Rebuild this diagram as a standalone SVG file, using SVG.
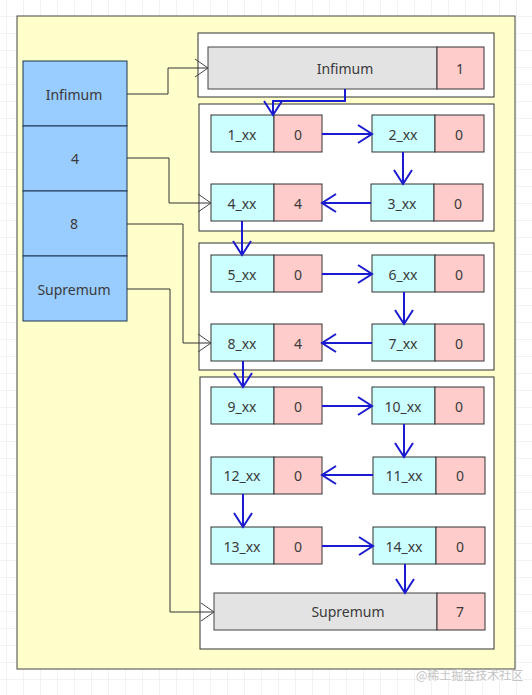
<svg xmlns="http://www.w3.org/2000/svg" width="532" height="695" viewBox="0 0 532 695">
<style>
text{font-family:"Noto Sans","Open Sans","DejaVu Sans",sans-serif;font-size:14px;fill:#3a3a3a;text-anchor:middle;dominant-baseline:central}
.outer{fill:#ffffcc;stroke:#444;stroke-width:1}
.col{fill:#99ccff;stroke:#1f3550;stroke-width:1}
.page{fill:#fff;stroke:#333;stroke-width:1}
.cy{fill:#ccffff;stroke:#333;stroke-width:1}
.pk{fill:#ffcccc;stroke:#333;stroke-width:1}
.gr{fill:#e3e3e3;stroke:#444;stroke-width:1}
.bl{fill:none;stroke:#1a1ad0;stroke-width:2}
.bk{fill:none;stroke:#333;stroke-width:1}
.wm{font-family:"Noto Sans CJK SC","Noto Sans",sans-serif;font-size:12px;fill:#c4c4c4;text-anchor:start}
</style>
<defs>
<pattern id="grid" x="6" y="16" width="17" height="17" patternUnits="userSpaceOnUse">
<path d="M0 0H17M0 0V17" fill="none" stroke="#e6e6e6" stroke-width="1"/>
</pattern>
<marker id="ab" markerUnits="userSpaceOnUse" markerWidth="20" markerHeight="24" refX="15" refY="10" orient="auto">
<path d="M1 1L15 10L1 19" fill="none" stroke="#1a1ad0" stroke-width="2"/>
</marker>
<marker id="ak" markerUnits="userSpaceOnUse" markerWidth="20" markerHeight="24" refX="14" refY="10" orient="auto">
<path d="M1 1L14 10L1 19" fill="none" stroke="#444" stroke-width="1"/>
</marker>
</defs>
<rect width="532" height="695" fill="#fff"/>
<rect width="532" height="695" fill="url(#grid)"/>
<rect class="outer" x="17" y="16" width="498" height="653"/>

<g id="directory">
<rect class="col" x="23" y="61" width="104" height="65"/>
<text x="74" y="94">Infimum</text>
<rect class="col" x="23" y="126" width="104" height="65"/>
<text x="75" y="158">4</text>
<rect class="col" x="23" y="191" width="104" height="65"/>
<text x="74" y="223">8</text>
<rect class="col" x="23" y="256" width="104" height="65"/>
<text x="74" y="289">Supremum</text>
</g>

<g id="page1"><rect class="page" x="198" y="33" width="296" height="64"/></g>
<g id="page2"><rect class="page" x="199" y="104" width="295" height="127"/></g>
<g id="page3"><rect class="page" x="199" y="243" width="295" height="127"/></g>
<g id="page4"><rect class="page" x="200" y="377" width="294" height="272"/></g>

<g id="infimum"><rect class="gr" x="208" y="47" width="229" height="42"/><text x="345" y="68">Infimum</text><rect class="pk" x="437" y="47" width="47" height="42"/><text x="460" y="68">1</text></g>

<g id="r1"><rect class="cy" x="211" y="115" width="63" height="37"/><text x="242" y="134">1_xx</text><rect class="pk" x="274" y="115" width="48" height="37"/><text x="298" y="134">0</text></g>
<g id="r2"><rect class="cy" x="372" y="115" width="63" height="37"/><text x="403" y="134">2_xx</text><rect class="pk" x="435" y="115" width="49" height="37"/><text x="459" y="134">0</text></g>
<g id="r3"><rect class="cy" x="371" y="184" width="63" height="37"/><text x="402" y="203">3_xx</text><rect class="pk" x="434" y="184" width="49" height="37"/><text x="458" y="203">0</text></g>
<g id="r4"><rect class="cy" x="211" y="184" width="63" height="37"/><text x="242" y="203">4_xx</text><rect class="pk" x="274" y="184" width="48" height="37"/><text x="298" y="203">4</text></g>

<g id="r5"><rect class="cy" x="211" y="255" width="63" height="37"/><text x="242" y="274">5_xx</text><rect class="pk" x="274" y="255" width="48" height="37"/><text x="298" y="274">0</text></g>
<g id="r6"><rect class="cy" x="372" y="255" width="63" height="37"/><text x="403" y="274">6_xx</text><rect class="pk" x="435" y="255" width="49" height="37"/><text x="459" y="274">0</text></g>
<g id="r7"><rect class="cy" x="372" y="324" width="63" height="37"/><text x="403" y="343">7_xx</text><rect class="pk" x="435" y="324" width="49" height="37"/><text x="459" y="343">0</text></g>
<g id="r8"><rect class="cy" x="211" y="324" width="63" height="37"/><text x="242" y="343">8_xx</text><rect class="pk" x="274" y="324" width="48" height="37"/><text x="298" y="343">4</text></g>

<g id="r9"><rect class="cy" x="211" y="387" width="63" height="37"/><text x="242" y="406">9_xx</text><rect class="pk" x="274" y="387" width="48" height="37"/><text x="298" y="406">0</text></g>
<g id="r10"><rect class="cy" x="372" y="387" width="63" height="37"/><text x="403" y="406">10_xx</text><rect class="pk" x="435" y="387" width="49" height="37"/><text x="459" y="406">0</text></g>
<g id="r11"><rect class="cy" x="373" y="457" width="63" height="37"/><text x="404" y="475">11_xx</text><rect class="pk" x="436" y="457" width="49" height="37"/><text x="460" y="475">0</text></g>
<g id="r12"><rect class="cy" x="211" y="457" width="63" height="37"/><text x="242" y="475">12_xx</text><rect class="pk" x="274" y="457" width="48" height="37"/><text x="298" y="475">0</text></g>
<g id="r13"><rect class="cy" x="211" y="527" width="63" height="37"/><text x="242" y="546">13_xx</text><rect class="pk" x="274" y="527" width="48" height="37"/><text x="298" y="546">0</text></g>
<g id="r14"><rect class="cy" x="373" y="527" width="63" height="37"/><text x="404" y="546">14_xx</text><rect class="pk" x="436" y="527" width="49" height="37"/><text x="460" y="546">0</text></g>

<g id="supremum"><rect class="gr" x="214" y="593" width="223" height="37"/><text x="348" y="611">Supremum</text><rect class="pk" x="437" y="593" width="48" height="37"/><text x="460" y="611">7</text></g>

<g id="connectors">
<path class="bk" d="M127 94H168V68H208" marker-end="url(#ak)"/>
<path class="bk" d="M127 158H169V203H211" marker-end="url(#ak)"/>
<path class="bk" d="M127 224H183V343H211" marker-end="url(#ak)"/>
<path class="bk" d="M127 289H170V612H214" marker-end="url(#ak)"/>

<path class="bl" d="M345 89V101H273V115" marker-end="url(#ab)"/>
<path class="bl" d="M322 134H372" marker-end="url(#ab)"/>
<path class="bl" d="M403 152V184" marker-end="url(#ab)"/>
<path class="bl" d="M371 203H322" marker-end="url(#ab)"/>
<path class="bl" d="M242 221V255" marker-end="url(#ab)"/>
<path class="bl" d="M322 274H372" marker-end="url(#ab)"/>
<path class="bl" d="M404 292V324" marker-end="url(#ab)"/>
<path class="bl" d="M372 343H322" marker-end="url(#ab)"/>
<path class="bl" d="M243 361V387" marker-end="url(#ab)"/>
<path class="bl" d="M322 406H372" marker-end="url(#ab)"/>
<path class="bl" d="M404 424V457" marker-end="url(#ab)"/>
<path class="bl" d="M373 475H322" marker-end="url(#ab)"/>
<path class="bl" d="M243 494V527" marker-end="url(#ab)"/>
<path class="bl" d="M322 546H373" marker-end="url(#ab)"/>
<path class="bl" d="M405 564V593" marker-end="url(#ab)"/>
</g>
<text class="wm" x="416" y="674">@稀土掘金技术社区</text>
</svg>
